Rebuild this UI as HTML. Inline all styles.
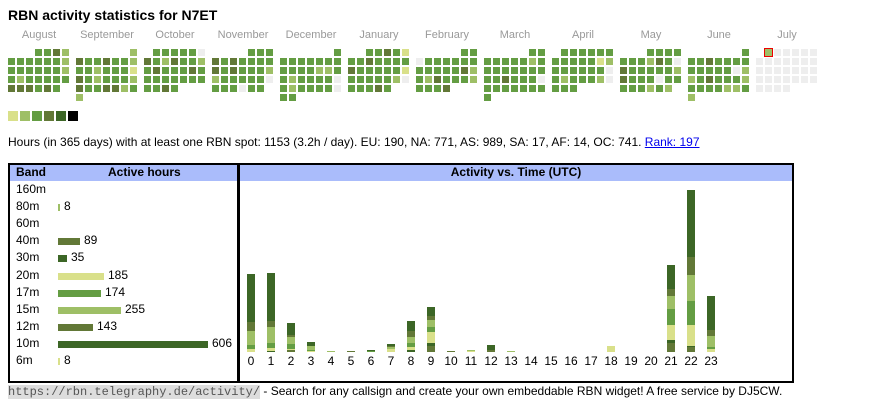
<!DOCTYPE html>
<html><head><meta charset="utf-8">
<style>
body{margin:0;width:870px;height:407px;background:#fff;font-family:"Liberation Sans",Arial,sans-serif;position:relative;overflow:hidden;color:#000}
.a{position:absolute}
.c{position:absolute;width:7px;height:7px}
.m{position:absolute;top:29px;font-size:11px;color:#999;width:68px;text-align:center}
.bl{position:absolute;left:16px;font-size:12px}
.hb{position:absolute;height:7px}
.hv{position:absolute;font-size:12px}
.hl{position:absolute;top:354px;font-size:12px;width:20px;text-align:center}
</style></head><body>
<div class="a" style="left:8px;top:7px;font-size:14px;font-weight:bold">RBN activity statistics for N7ET</div>
<div id="cal"></div>
<div class="a" style="left:8px;top:135px;font-size:12px">Hours (in 365 days) with at least one RBN spot: 1153 (3.2h / day). EU: 190, NA: 771, AS: 989, SA: 17, AF: 14, OC: 741. <span style="color:#00e;text-decoration:underline">Rank: 197</span></div>

<div class="a" style="left:8px;top:163px;width:227px;height:216px;border:2px solid #000"></div>
<div class="a" style="left:10px;top:165px;width:227px;height:16px;background:#aabcfb"></div>
<div class="a" style="left:16px;top:165px;font-size:12px;font-weight:bold">Band</div>
<div class="a" style="left:108px;top:165px;font-size:12px;font-weight:bold">Active hours</div>

<div class="a" style="left:238px;top:163px;width:552px;height:216px;border:2px solid #000"></div>
<div class="a" style="left:240px;top:165px;width:552px;height:16px;background:#aabcfb"></div>
<div class="a" style="left:240px;top:165px;width:552px;text-align:center;font-size:12px;font-weight:bold">Activity vs. Time (UTC)</div>
<div id="bands"></div>
<div id="hours"></div>

<div class="a" style="left:8px;top:384px;font-size:12px"><span style="font-family:'Liberation Mono',monospace;background:#ddd;color:#555;font-size:12px">https://rbn.telegraphy.de/activity/</span> - Search for any callsign and create your own embeddable RBN widget! A free service by DJ5CW.</div>
<script>
var C={1:'#d9e08a',2:'#9ebf66',3:'#649d43',4:'#627837',5:'#3c6626',e:'#eeeeee'};
var months=[
["August",["...3342","3333332","3333332","3233333","444343."]],
["September",["......2","4334332","3323331","4323332","4334423","2......"]],
["October",[".33333e","4324332","3433343","3333333","3343..."]],
["November",["....333","4343333","4343332","233333e","333e33."]],
["December",["......3","3333333","3333223","323333e","323333e","33....."]],
["January",["..33431","3343333","4333331","333332e","33343.."]],
["February",[".....33","e333333","3333342","3243332","3334..."]],
["March",[".....33","3333323","3333333","334333e","3333333","3......"]],
["April",[".333333","3333312","333333e","323332e","333...."]],
["May",["...3333","333243e","4333332","4333e33","333232."]],
["June",["......3","3343333","33333e2","2343332","3333223","2......"]],
["July",[".2eeeee","eeeeeee","eeeeeee","eeeeeee","eeee..."]]];
var h='';
months.forEach(function(m,i){
 var x0=8+68*i;
 h+='<div class="m" style="left:'+(x0-3)+'px">'+m[0]+'</div>';
 m[1].forEach(function(r,ri){
  for(var k=0;k<7;k++){var ch=r[k];if(ch=='.'||ch==undefined)continue;
   var st='left:'+(x0+9*k)+'px;top:'+(49+9*ri)+'px;background:'+C[ch];
   if(i==11&&ri==0&&k==1)st+=';outline:1px solid #e00;';
   h+='<div class="c" style="'+st+'"></div>';}
 });
});
['1','2','3','4','5'].forEach(function(c,i){h+='<div class="a" style="left:'+(8+12*i)+'px;top:111px;width:10px;height:10px;background:'+C[c]+'"></div>';});
h+='<div class="a" style="left:68px;top:111px;width:10px;height:10px;background:#000"></div>';
document.getElementById('cal').innerHTML=h;

var bands=[["160m",0,null],["80m",8,2],["60m",0,null],["40m",89,4],["30m",35,5],["20m",185,1],["17m",174,3],["15m",255,2],["12m",143,4],["10m",606,5],["6m",8,1]];
h='';
bands.forEach(function(b,i){var y=182+17.1*i;
 h+='<div class="bl" style="top:'+y+'px">'+b[0]+'</div>';
 if(b[2]){var w=Math.max(1,Math.round(b[1]*0.2475));
  h+='<div class="hb" style="left:58px;top:'+(y+5)+'px;width:'+w+'px;background:'+C[b[2]]+'"></div>';
  h+='<div class="hv" style="left:'+(58+w+4)+'px;top:'+y+'px">'+b[1]+'</div>';}
});
document.getElementById('bands').innerHTML=h;

var H={0:[[1,3],[3,4],[2,14],[4,9],[5,48]],1:[[5,1],[1,3],[3,5],[2,16],[4,6],[5,48]],2:[[4,2],[1,1],[3,5],[2,7],[4,2],[5,12]],3:[[1,1],[3,1],[2,4],[5,4]],4:[[2,1]],5:[[4,1]],6:[[3,1],[5,1]],7:[[1,3],[2,2],[4,1],[5,2]],8:[[5,2],[1,3],[3,4],[2,6],[4,6],[5,10]],9:[[4,6],[5,3],[1,11],[3,5],[2,7],[4,4],[5,9]],10:[[4,1]],11:[[1,1],[2,1]],12:[[4,2],[5,5]],13:[[2,1]],18:[[1,6]],21:[[4,9],[5,3],[1,15],[3,16],[2,13],[4,7],[5,24]],22:[[4,5],[5,1],[1,21],[3,24],[2,26],[4,18],[5,67]],23:[[1,3],[3,2],[2,11],[4,6],[5,34]]};
h='';
for(var i=0;i<24;i++){var x=247+20*i,y=352;
 (H[i]||[]).forEach(function(s){y-=s[1];h+='<div class="a" style="left:'+x+'px;top:'+y+'px;width:8px;height:'+s[1]+'px;background:'+C[s[0]]+'"></div>';});
 h+='<div class="hl" style="left:'+(x-6)+'px">'+i+'</div>';}
document.getElementById('hours').innerHTML=h;
</script>
</body></html>
